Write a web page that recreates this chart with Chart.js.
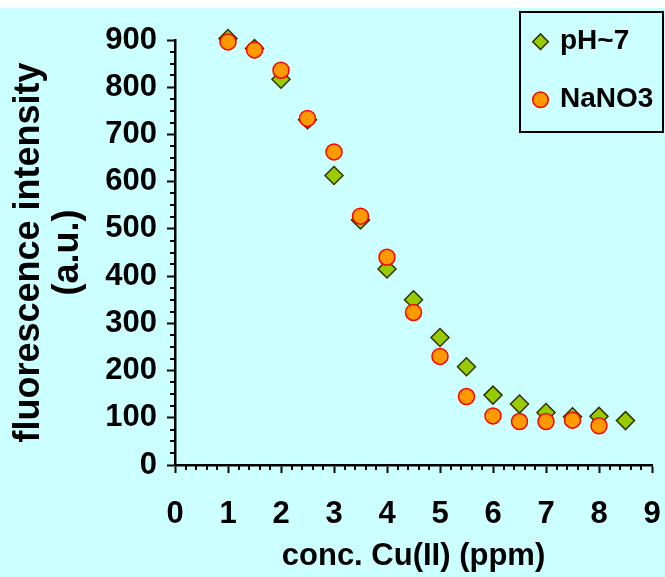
<!DOCTYPE html>
<html>
<head>
<meta charset="utf-8">
<script src="https://cdn.jsdelivr.net/npm/chart.js@4"></script>
<style>
  html, body { margin: 0; padding: 0; background: #fff; }
  canvas { display: block; }
</style>
</head>
<body>
<canvas id="fluoChart" width="665" height="577"></canvas>
<script>
// Data
const concPH = [1, 1.5, 2, 2.5, 3, 3.5, 4, 4.5, 5, 5.5, 6, 6.5, 7, 7.5, 8, 8.5];
const intensityPH = [903, 882, 817, 731, 613, 519, 415, 350, 270, 208, 148, 129, 111, 102, 103, 94];

const concNaNO3 = [1, 1.5, 2, 2.5, 3, 3.5, 4, 4.5, 5, 5.5, 6, 6.5, 7, 7.5, 8];
const intensityNaNO3 = [896, 879, 836, 734, 663, 527, 440, 323, 230, 145, 104, 92, 92, 95, 83];

const seriesLabels = ['pH~7', 'NaNO3'];
const xTitle = 'conc. Cu(II) (ppm)';
const yTitle = ['fluorescence intensity', '(a.u.)'];

const FONT = '"Liberation Sans", Arial, sans-serif';
const xMinorStep = 0.2;
const yMinorStep = 25;

function toPoints(xs, ys) {
    return xs.map((x, i) => ({ x: x, y: ys[i] }));
}

// Cyan plot background with the thin white strip at the top
const background = {
    id: 'background',
    beforeDraw(chart) {
        const ctx = chart.ctx;
        ctx.save();
        ctx.fillStyle = '#ffffff';
        ctx.fillRect(0, 0, chart.width, chart.height);
        ctx.fillStyle = '#ccffff';
        ctx.fillRect(0, 8, chart.width, chart.height - 8);
        ctx.restore();
    }
};

// Short minor ticks between the labelled ones
const minorTicks = {
    id: 'minorTicks',
    afterDraw(chart) {
        const ctx = chart.ctx;
        const xs = chart.scales.x, ys = chart.scales.y;
        const area = chart.chartArea;
        ctx.save();
        ctx.strokeStyle = '#000';
        ctx.lineWidth = 2;
        ctx.beginPath();
        for (let v = xs.min; v <= xs.max + 1e-9; v += xMinorStep) {
            if (Math.abs(v - Math.round(v)) < 1e-6) continue;
            const px = Math.round(xs.getPixelForValue(v));
            ctx.moveTo(px, area.bottom);
            ctx.lineTo(px, area.bottom + 5);
        }
        for (let v = ys.min; v <= ys.max + 1e-9; v += yMinorStep) {
            if (v % 100 === 0) continue;
            const py = Math.round(ys.getPixelForValue(v));
            ctx.moveTo(area.left, py);
            ctx.lineTo(area.left - 5, py);
        }
        ctx.stroke();
        ctx.restore();
    }
};

// Move the legend to the top right corner and frame it
const legendBox = {
    id: 'legendBox',
    afterLayout(chart) {
        const lg = chart.legend;
        lg.left = 505;
        lg.top = -2.3;
        lg.width = 165;
        lg.height = 220;
        lg.right = lg.left + lg.width;
        lg.bottom = lg.top + lg.height;
    },
    afterDraw(chart) {
        const ctx = chart.ctx;
        ctx.save();
        ctx.strokeStyle = '#000';
        ctx.lineWidth = 2;
        ctx.strokeRect(520, 12, 143, 120);
        ctx.restore();
    }
};

const ctx = document.getElementById('fluoChart').getContext('2d');

new Chart(ctx, {
    type: 'scatter',
    data: {
        datasets: [
            {
                label: seriesLabels[0],
                data: toPoints(concPH, intensityPH),
                pointStyle: 'rectRot',
                pointRadius: 9,
                pointBackgroundColor: '#99cc00',
                pointBorderColor: '#333300',
                pointBorderWidth: 1.5,
                backgroundColor: '#99cc00',
                borderColor: '#333300',
                clip: false,
                order: 1
            },
            {
                label: seriesLabels[1],
                data: toPoints(concNaNO3, intensityNaNO3),
                pointStyle: 'circle',
                pointRadius: 8,
                pointBackgroundColor: '#ff9900',
                pointBorderColor: '#ff0000',
                pointBorderWidth: 1.5,
                backgroundColor: '#ff9900',
                borderColor: '#ff0000',
                clip: false,
                order: 0
            }
        ]
    },
    options: {
        responsive: false,
        animation: false,
        devicePixelRatio: 1,
        layout: { padding: { top: 40, right: 13, left: 0, bottom: 0 } },
        plugins: {
            tooltip: { enabled: false },
            legend: {
                position: 'chartArea',
                align: 'start',
                labels: {
                    usePointStyle: true,
                    boxWidth: 11,
                    boxHeight: 11,
                    padding: 30,
                    color: '#000',
                    font: { family: FONT, size: 28, weight: 'bold' },
                    sort: (a, b) => a.datasetIndex - b.datasetIndex
                }
            }
        },
        scales: {
            x: {
                type: 'linear',
                min: 0,
                max: 9,
                afterFit: (scale) => {
                    scale.height = 112;
                    scale.paddingLeft = 0;
                    scale.paddingRight = 0;
                },
                ticks: {
                    stepSize: 1,
                    color: '#000',
                    padding: 23,
                    font: { family: FONT, size: 31, weight: 'bold' }
                },
                grid: {
                    drawOnChartArea: false,
                    tickLength: 8,
                    tickWidth: 2,
                    tickColor: '#000'
                },
                border: { color: '#000', width: 2.5 },
                title: {
                    display: true,
                    text: xTitle,
                    color: '#000',
                    padding: { top: 0, bottom: 2 },
                    font: { family: FONT, size: 31, weight: 'bold' }
                }
            },
            y: {
                min: 0,
                max: 900,
                afterFit: (scale) => { scale.width = 175; },
                ticks: {
                    stepSize: 100,
                    color: '#000',
                    padding: 10,
                    font: { family: FONT, size: 31, weight: 'bold' }
                },
                grid: {
                    drawOnChartArea: false,
                    tickLength: 8,
                    tickWidth: 2,
                    tickColor: '#000'
                },
                border: { color: '#000', width: 2.5 },
                title: {
                    display: true,
                    text: yTitle,
                    color: '#000',
                    padding: { top: 10, bottom: 0 },
                    font: { family: FONT, size: 36, weight: 'bold', lineHeight: 1.08 }
                }
            }
        }
    },
    plugins: [background, minorTicks, legendBox]
});
</script>
</body>
</html>
